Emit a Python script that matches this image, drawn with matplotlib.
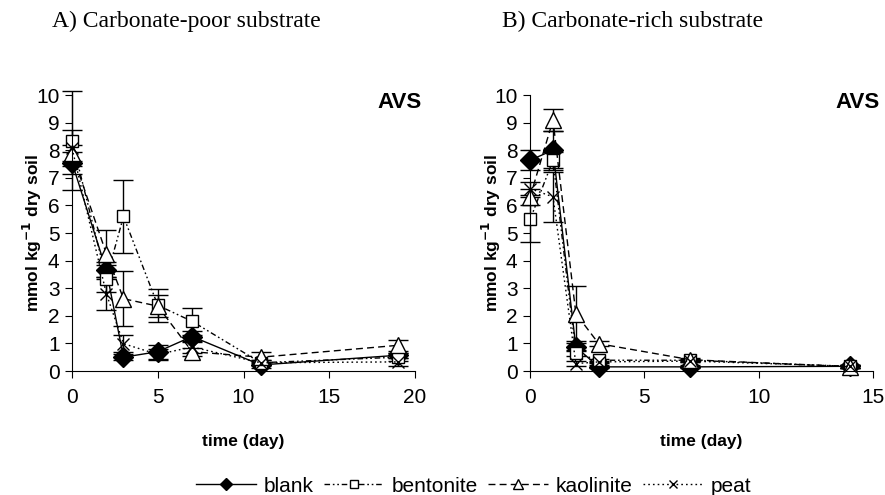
import numpy as np
import matplotlib
matplotlib.use("Agg")
import matplotlib.pyplot as plt
from matplotlib.lines import Line2D

plt.rcParams['font.family'] = ['Liberation Sans', 'DejaVu Sans']

# A) carbonate-poor substrate
days_a = [0, 2, 3, 5, 7, 11, 19]
blank_a = [7.55, 3.65, 0.5, 0.7, 1.25, 0.22, 0.57]
blank_a_err = [0.4, 0.3, 0.1, 0.25, 0.2, 0.1, 0.1]
bent_a = [8.35, 3.35, 5.6, 2.38, 1.8, 0.3, 0.5]
bent_a_err = [1.8, 0.5, 1.33, 0.6, 0.5, 0.1, 0.15]
kaol_a = [7.9, 4.25, 2.62, 2.35, 0.7, 0.5, 0.93]
kaol_a_err = [0.3, 0.85, 1.0, 0.4, 0.15, 0.2, 0.2]
peat_a = [8.07, 2.8, 0.99, 0.6, 0.87, 0.3, 0.33]
peat_a_err = [0.65, 0.6, 0.3, 0.2, 0.2, 0.1, 0.15]

# B) carbonate-rich substrate
days_b = [0, 1, 2, 3, 7, 14]
blank_b = [7.64, 8.0, 0.87, 0.15, 0.15, 0.17]
blank_b_err = [0.36, 0.7, 0.15, 0.05, 0.05, 0.05]
bent_b = [5.49, 7.64, 0.65, 0.39, 0.39, 0.17]
bent_b_err = [0.8, 0.3, 0.1, 0.05, 0.05, 0.05]
kaol_b = [6.31, 9.09, 2.08, 0.99, 0.41, 0.15]
kaol_b_err = [0.3, 0.4, 1.0, 0.1, 0.05, 0.05]
peat_b = [6.61, 6.31, 0.27, 0.33, 0.36, 0.17]
peat_b_err = [0.25, 0.9, 0.1, 0.05, 0.05, 0.05]

names = ['blank', 'bentonite', 'kaolinite', 'peat']
styles = [
    dict(ls='-', marker='D', mfc='black', ms=10),
    dict(ls=(0, (4, 2, 1.2, 2, 1.2, 2)), marker='s', mfc='white', ms=8),
    dict(ls=(0, (5, 3)), marker='^', mfc='white', ms=11),
    dict(ls=(0, (1.2, 2.2)), marker='x', mfc='white', ms=9),
]

fig = plt.figure(figsize=(8.85, 4.95), dpi=100)
ax1 = fig.add_axes([0.0814, 0.2505, 0.3876, 0.5575])
ax2 = fig.add_axes([0.599, 0.2505, 0.3876, 0.5575])

panels = [
    (ax1, days_a, [blank_a, bent_a, kaol_a, peat_a],
     [blank_a_err, bent_a_err, kaol_a_err, peat_a_err], 20, 'A) Carbonate-poor substrate', 52),
    (ax2, days_b, [blank_b, bent_b, kaol_b, peat_b],
     [blank_b_err, bent_b_err, kaol_b_err, peat_b_err], 15, 'B) Carbonate-rich substrate', 502),
]

for ax, days, series, errs, xmax, title, tx in panels:
    for y, e, st in zip(series, errs, styles):
        ax.errorbar(days, y, yerr=e, color='black', lw=1.0, mec='black', mew=1.0,
                    capsize=7, elinewidth=1.0, capthick=1.0, clip_on=False, **st)
    ax.set_xlim(0, xmax)
    ax.set_ylim(0, 10)
    ax.set_xticks(np.arange(0, xmax + 1, 5))
    ax.set_yticks(np.arange(0, 11, 1))
    for s in ['top', 'right']:
        ax.spines[s].set_visible(False)
    ax.tick_params(labelsize=15, length=5, direction='out', pad=4)
    ax.tick_params(axis='x', pad=7)
    ax.set_xlabel('time (day)', fontsize=12.5, fontweight='bold', labelpad=20)
    ax.set_ylabel('mmol kg$^{\\mathbf{-1}}$ dry soil', fontsize=12.5, fontweight='bold',
                  labelpad=-6)
    ax.text(1.02, 1.01, 'AVS', transform=ax.transAxes, ha='right', va='top',
            fontsize=16, fontweight='bold')
    fig.text(tx / 885, 0.945, title, ha='left', va='baseline',
             fontsize=17, family=['Liberation Serif', 'DejaVu Serif'])

handles = [Line2D([], [], color='black', lw=1.0, mec='black',
                  **dict(st, ms=st['ms'] * 0.65)) for st in styles]
fig.legend(handles, names, loc='center', bbox_to_anchor=(0.535, 0.018), ncol=4,
           frameon=False, fontsize=15, handlelength=2.9, handletextpad=0.35,
           columnspacing=0.5, borderpad=0)

fig.savefig('out.png', dpi=100)
